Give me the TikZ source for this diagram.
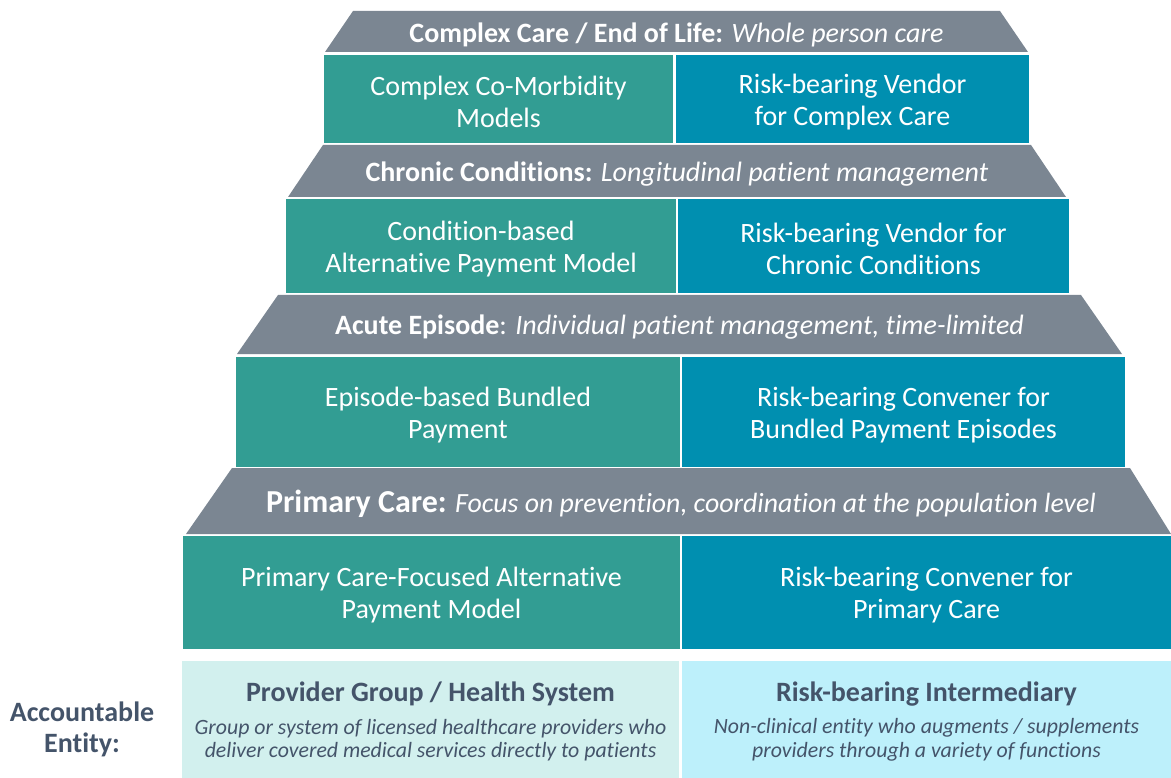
\documentclass[tikz,border=0pt]{standalone}
\usepackage{fontspec}
\setmainfont[Ligatures=NoCommon, Contextuals=NoAlternate, RawFeature={-liga,-clig,-calt,-dlig,-rlig}]{Carlito}
\definecolor{headgray}{HTML}{7B8692}
\definecolor{tealbox}{HTML}{329D93}
\definecolor{bluebox}{HTML}{008FB0}
\definecolor{lightteal}{HTML}{D2F0EE}
\definecolor{lightblue}{HTML}{BDF0FB}
\definecolor{darktext}{HTML}{44546A}
\tikzset{
  headfill/.style={fill=headgray},
  headtext/.style={text=white, inner sep=0pt, yshift=-3pt, font=\fontsize{28}{32}\selectfont},
  celltext/.style={inner sep=0pt, text=white, align=center, font=\fontsize{28}{32}\selectfont},
  tealcell/.style={inner sep=0pt, fill=tealbox},
  bluecell/.style={inner sep=0pt, fill=bluebox},
  entitytitle/.style={inner sep=0pt, text=darktext, font=\bfseries\fontsize{28}{32}\selectfont},
  entitydesc/.style={inner sep=0pt, text=darktext, align=center, font=\itshape\fontsize{21.8}{23.5}\selectfont},
}
% filled cell from (x0,y0) to (x1,y1) with its centred caption
\newcommand{\cellat}[7]{% style, name, x0, y0, x1, y1, text
  \node[#1, minimum width={#5-#3}, minimum height={#6-#4}] (#2) at ({(#3+#5)/2},{(#4+#6)/2}) {};
  \node[celltext] (#2-text) at ([yshift=-3pt]#2.center) {#7};}
\begin{document}
\begin{tikzpicture}[x=1pt, y=-1pt]
\useasboundingbox[fill=white] (0,0) rectangle (1171,778);

% Tier 1: complex care
\fill[headfill] (325,52) -- (353,11) -- (1000,11) -- (1028,52) -- cycle;
\node[headtext] (h1) at (676.5,31.5) {\textbf{Complex Care / End of Life:} \textit{Whole person care}};
\cellat{tealcell}{c1l}{324}{55}{673}{143}{Complex Co-Morbidity\\Models}
\cellat{bluecell}{c1r}{676}{55}{1029}{143}{Risk-bearing Vendor\\for Complex Care}

% Tier 2: chronic conditions
\fill[headfill] (288,197) -- (323,145) -- (1031,145) -- (1066,197) -- cycle;
\node[headtext] (h2) at (677,171) {\textbf{Chronic Conditions:} \textit{Longitudinal patient management}};
\cellat{tealcell}{c2l}{286}{199}{676}{293}{Condition-based\\Alternative Payment Model}
\cellat{bluecell}{c2r}{678}{199}{1069}{293}{Risk-bearing Vendor for\\Chronic Conditions}

% Tier 3: acute episode
\fill[headfill] (237,354) -- (278,295) -- (1081,295) -- (1122,354) -- cycle;
\node[headtext] (h3) at (679.5,324.5) {\textbf{Acute Episode}: \textit{Individual patient management, time-limited}};
\cellat{tealcell}{c3l}{236}{357}{680}{467}{Episode-based Bundled\\Payment}
\cellat{bluecell}{c3r}{682}{357}{1125}{467}{Risk-bearing Convener for\\Bundled Payment Episodes}

% Tier 4: primary care
\fill[headfill] (186,534) -- (232,468) -- (1130,468) -- (1171,534) -- cycle;
\node[headtext] (h4) at (681,501) {{\bfseries\fontsize{32}{36}\selectfont Primary Care:} {\itshape\fontsize{27.8}{32}\selectfont Focus on prevention, coordination at the population level}};
\cellat{tealcell}{c4l}{183}{536}{680}{649}{Primary Care-Focused Alternative\\Payment Model}
\cellat{bluecell}{c4r}{682}{536}{1171}{649}{Risk-bearing Convener for\\Primary Care}

% Accountable entities
\node[fill=lightteal, inner sep=0pt, minimum width=497, minimum height=117] (e1) at (430.5,719.5) {};
\node[fill=lightblue, inner sep=0pt, minimum width=489, minimum height=117] (e2) at (926.5,719.5) {};
\node[entitytitle] (e1t) at (430.5,694) {Provider Group / Health System};
\node[entitydesc] (e1d) at (430.5,740) {Group or system of licensed healthcare providers who\\deliver covered medical services directly to patients};
\node[entitytitle] (e2t) at (926.5,694) {Risk-bearing Intermediary};
\node[entitydesc] (e2d) at (926.5,740) {Non-clinical entity who augments / supplements\\providers through a variety of functions};

\node[entitytitle, align=center, font=\bfseries\fontsize{28}{31}\selectfont] (lab) at (82,729) {Accountable\\Entity:};
\end{tikzpicture}
\end{document}
